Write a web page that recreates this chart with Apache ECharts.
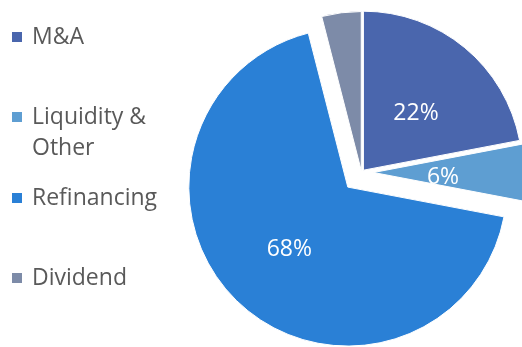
<!DOCTYPE html>
<html>
<head>
<meta charset="utf-8">
<script src="https://cdn.jsdelivr.net/npm/echarts@6/dist/echarts.min.js"></script>
<style>
  html, body { margin: 0; padding: 0; background: #fff; }
  #chart { width: 522px; height: 347px; }
</style>
</head>
<body>
<div id="chart"></div>
<script>
// Use of proceeds, share of total (%)
const categories = ['M&A', 'Liquidity & Other', 'Refinancing', 'Dividend'];
const shares = [22, 6, 68, 4];
const showValueLabel = [true, true, true, false];

// Styling
const sliceColors = ['#4A66AD', '#5E9ED2', '#2A80D6', '#7D8BA8'];
const explodeOffset = [3, 12, 20, 2];          // px each slice is pulled out
const labelShift = [[0, 7], [-13, 5], [-2, 2], [0, 0]]; // fine placement of value labels
const legendMarkerCenter = [37, 117, 198, 278]; // vertical centre of each legend swatch
const pieCenter = [361.5, 172.5];
const pieRadius = 159;
const fontFamily = 'Open Sans';

const total = shares.reduce((a, b) => a + b, 0);

// Each slice gets its own pie series so it can be exploded by its own amount
// along its mid angle; the other slices of that series stay invisible.
let cumulative = 0;
const series = categories.map((name, i) => {
  const mid = (cumulative + shares[i] / 2) / total * 2 * Math.PI; // clockwise from 12 o'clock
  cumulative += shares[i];
  const cx = pieCenter[0] + explodeOffset[i] * Math.sin(mid);
  const cy = pieCenter[1] - explodeOffset[i] * Math.cos(mid);
  return {
    type: 'pie',
    name: name,
    center: [cx, cy],
    radius: pieRadius,
    startAngle: 90,
    clockwise: true,
    silent: true,
    animation: false,
    avoidLabelOverlap: false,
    emphasis: { disabled: true },
    labelLine: { show: false },
    label: {
      position: 'inside',
      color: '#ffffff',
      fontSize: 23,
      fontFamily: fontFamily,
      formatter: p => p.value + '%'
    },
    data: categories.map((n, j) => ({
      name: n,
      value: shares[j],
      itemStyle: j === i
        ? { color: sliceColors[j], borderColor: '#ffffff', borderWidth: 1 }
        : { color: 'rgba(0,0,0,0)', borderWidth: 0 },
      label: { show: j === i && showValueLabel[j], offset: labelShift[j] }
    }))
  };
});

// One legend block per category so the entries sit on an even vertical rhythm.
// The wrapped entry gets a blank leading line so its first line lines up with the swatch.
const legend = categories.map((name, i) => ({
  data: [{ name: name, icon: 'rect', itemStyle: { color: sliceColors[i] } }],
  orient: 'vertical',
  left: 12,
  top: 0,
  padding: 0,
  itemWidth: 10,
  itemHeight: 10,
  selectedMode: false,
  formatter: n => n === 'Liquidity & Other' ? '\nLiquidity &\nOther' : n,
  textStyle: {
    color: '#595959',
    fontSize: 23,
    fontFamily: fontFamily,
    lineHeight: 31,
    padding: [0, 0, 0, 5]
  }
}));
legend.forEach((lg, i) => {
  const lines = lg.formatter(categories[i]).split('\n').length;
  lg.top = legendMarkerCenter[i] - lines * 31 / 2;
});

const chart = echarts.init(document.getElementById('chart'), null, { renderer: 'canvas' });
chart.setOption({
  animation: false,
  backgroundColor: '#ffffff',
  legend: legend,
  series: series
});
</script>
</body>
</html>
